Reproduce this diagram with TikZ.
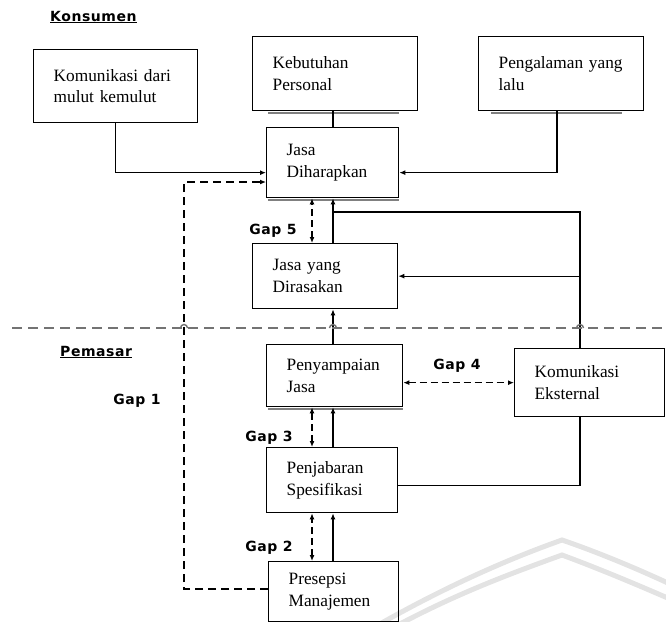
\documentclass[tikz,border=0pt]{standalone}
\usepackage{fontspec}
\setmainfont{Liberation Serif}
\newfontfamily\labelfont{DejaVu Sans}[LetterSpace=4]
\usetikzlibrary{arrows.meta,calc}

\begin{document}
\begin{tikzpicture}[x=1pt,y=-1pt,
  box/.style={draw, line width=1.3pt, anchor=north west, align=left,
    inner xsep=20pt, inner ysep=0pt, font=\fontsize{17.3}{21.5}\selectfont},
  gaplabel/.style={font=\labelfont\bfseries\fontsize{14}{16}\selectfont, inner sep=0pt},
  heading/.style={font=\labelfont\bfseries\fontsize{14}{16}\selectfont, inner sep=0pt},
  conn/.style={line width=1.2pt},
  arr/.style={conn, -{Latex[length=6pt,width=5pt]}},
  dasharr/.style={conn, dash pattern=on 7pt off 4pt, {Latex[length=6pt,width=5pt]}-{Latex[length=6pt,width=5pt]}},
  dashline/.style={conn, dash pattern=on 8pt off 5pt},
  shade/.style={line width=1.5pt, black!50},
  divider/.style={line width=2pt, black!55, dash pattern=on 10pt off 6pt},
  hop/.style={line width=1.4pt, black!55},
  archline/.style={line width=5pt, black!11, line cap=round}]

\useasboundingbox (0,0) rectangle (666,621);
\clip (0,0) rectangle (666,621);

% faint arch in the lower right corner
\draw[archline] (378,625) .. controls (440,590) and (500,562) .. (562,540)
  .. controls (600,553) and (640,570) .. (670,584);
\draw[archline] (398,625) .. controls (460,592) and (515,572) .. (562,555)
  .. controls (600,569) and (640,586) .. (670,599);

% column positions of the vertical links
\coordinate (colA) at (333,0);
\coordinate (colB) at (312,0);
\coordinate (colE) at (580,0);
\coordinate (colG) at (184,0);

% headings
\node[heading, anchor=west] (konsumen) at (50,17) {\underline{Konsumen}};
\node[heading, anchor=west] (pemasar) at (60,352) {\underline{Pemasar}};

% boxes
\node[box, minimum width=164pt, text width=124pt, minimum height=73pt] (kom) at (33,49) {Komunikasi dari\\mulut kemulut};
\node[box, minimum width=165pt, text width=125pt, minimum height=74pt] (keb) at (252,36) {Kebutuhan\\Personal};
\node[box, minimum width=165pt, text width=125pt, minimum height=74pt] (peng) at (478,36) {Pengalaman yang\\lalu};
\node[box, minimum width=132pt, text width=92pt, minimum height=70pt] (harap) at (266,127) {Jasa\\Diharapkan};
\node[box, minimum width=145pt, text width=105pt, minimum height=65pt] (rasa) at (252,243) {Jasa yang\\Dirasakan};
\node[box, minimum width=136pt, text width=96pt, minimum height=62pt] (sampai) at (266,344) {Penyampaian\\Jasa};
\node[box, minimum width=150pt, text width=110pt, minimum height=68pt] (eks) at (514,348) {Komunikasi\\Eksternal};
\node[box, minimum width=131pt, text width=91pt, minimum height=65pt] (jabar) at (266,447) {Penjabaran\\Spesifikasi};
\node[box, minimum width=130pt, text width=90pt, minimum height=60pt] (presepsi) at (268,561) {Presepsi\\Manajemen};

% shadow strokes under some boxes
\draw[shade] ($(keb.south west)+(16,1.5)$) -- ($(keb.south east)+(-19,1.5)$);
\draw[shade] ($(peng.south west)+(13,1.5)$) -- ($(peng.south east)+(-22,1.5)$);
\draw[shade] ($(harap.south west)+(2,1.5)$) -- ($(harap.south east)+(0,1.5)$);
\draw[shade] ($(sampai.south west)+(2,1.5)$) -- ($(sampai.south east)+(0,1.5)$);

% gap labels
\node[gaplabel] (gap5) at (273,231) {Gap 5};
\node[gaplabel] (gap4) at (457,366) {Gap 4};
\node[gaplabel] (gap1) at (137,401) {Gap 1};
\node[gaplabel] (gap3) at (269,438) {Gap 3};
\node[gaplabel] (gap2) at (269,548) {Gap 2};

% inputs to the expected service
\draw[arr] (kom.south) |- ($(harap.west)+(0,10)$);
\draw[arr] ($(peng.south -| colE)+(-23,0)$) |- ($(harap.east)+(0,10)$);
\draw[conn] (keb.south -| colA) -- (harap.north -| colA);

% main upward chain
\draw[arr] (rasa.north -| colA) -- (harap.south -| colA);
\draw[arr] (sampai.north -| colA) -- (rasa.south -| colA);
\draw[arr] (jabar.north -| colA) -- (sampai.south -| colA);
\draw[arr] (presepsi.north -| colA) -- (jabar.south -| colA);

% gaps between neighbouring boxes
\draw[dasharr] (rasa.north -| colB) -- (harap.south -| colB);
\draw[dasharr] (jabar.north -| colB) -- (sampai.south -| colB);
\draw[dasharr] (presepsi.north -| colB) -- (jabar.south -| colB);
\coordinate (g4) at ($(sampai.east)+(0,7)$);
\draw[dasharr] (g4) -- (eks.west |- g4);

% Gap 1: management perception back to expected service
\coordinate (g1) at ($(colG)+(0,182)$);
\draw[dashline, -{Latex[length=6pt,width=5pt]}] ($(presepsi.north west)+(0,28)$) -| (g1) -- (harap.west |- g1);

% external communication links
\coordinate (jn) at ($(colA)+(0,212)$);
\draw[conn] (eks.north -| colE) |- (jn);
\draw[arr] (colE |- rasa.east) -- (rasa.east);
\draw[conn] (eks.south -| colE) |- ($(jabar.east)+(0,5)$);

% divider between consumer and marketer sides
\draw[divider] (12,328) -- (670,328);
% small hops where the divider crosses the vertical links
\foreach \hx in {184,333,580}
  \draw[hop] (\hx-3.5,328) arc[start angle=180, end angle=0, radius=3.5pt];

\end{tikzpicture}
\end{document}
